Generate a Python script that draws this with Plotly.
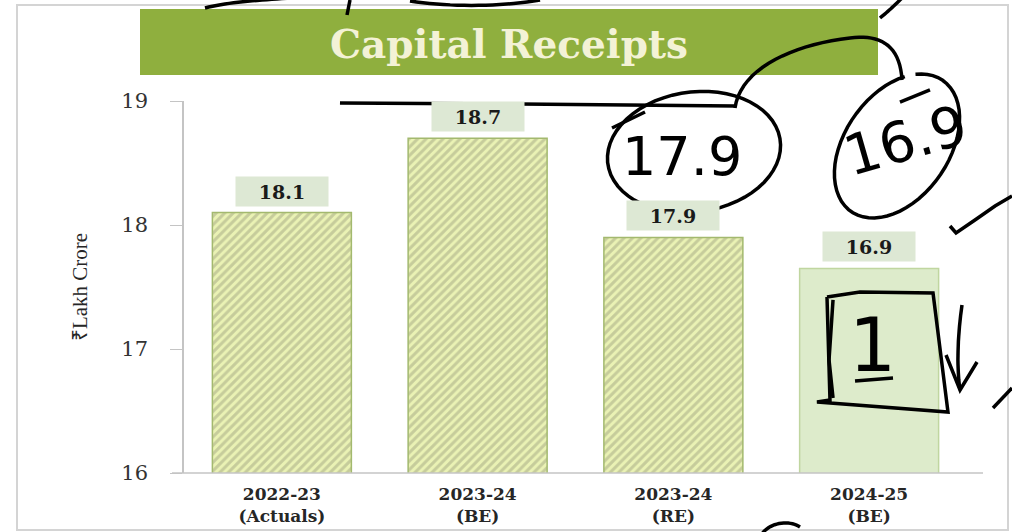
import numpy as np
import plotly.graph_objects as go

# data
years = ["2022-23<br>(Actuals)", "2023-24<br>(BE)", "2023-24<br>(RE)", "2024-25<br>(BE)"]
values = [18.1, 18.7, 17.9, 17.65]          # bar heights as drawn
value_labels = ["18.1", "18.7", "17.9", "16.9"]
y_ticks = [16, 17, 18, 19]

# plot area in pixels
L, R, T, B = 184, 967, 101, 473
W, H = 1012, 532


def px(x, y):
    return (x - L) / (R - L), (B - y) / (B - T)


def path(points):
    s = ""
    for i, (x, y) in enumerate(points):
        a, b = px(x, y)
        s += ("M" if i == 0 else "L") + f"{a:.4f},{b:.4f} "
    return s


def curve(p0, c1, c2, p1, n=20):
    t = np.linspace(0, 1, n)[:, None]
    p = np.array([p0, c1, c2, p1], dtype=float)
    pts = ((1 - t) ** 3) * p[0] + 3 * ((1 - t) ** 2) * t * p[1] + 3 * (1 - t) * t ** 2 * p[2] + t ** 3 * p[3]
    return [tuple(q) for q in pts]


def ellipse(cx, cy, rx, ry, ang, a0=0, a1=360):
    th = np.radians(np.linspace(a0, a1, 60))
    a = np.radians(ang)
    xs = cx + rx * np.cos(th) * np.cos(a) - ry * np.sin(th) * np.sin(a)
    ys = cy + rx * np.cos(th) * np.sin(a) + ry * np.sin(th) * np.cos(a)
    return list(zip(xs, ys))


fig = go.Figure(go.Bar(
    x=years,
    y=values,
    width=0.71,
    marker=dict(
        color=["#EAF2B4", "#EAF2B4", "#EAF2B4", "#DDEBCB"],
        line=dict(color=["#A3B96E", "#A3B96E", "#A3B96E", "#C0D6A0"], width=1.5),
        pattern=dict(shape=["/", "/", "/", ""], fgcolor="#C2D77E",
                     fgopacity=0.22, size=6, solidity=0.5),
    ),
    hoverinfo="skip",
))

for cat, v, lab in zip(years, values, value_labels):
    fig.add_annotation(
        x=cat, y=v, text="<b>" + lab + "</b>", showarrow=False,
        yanchor="bottom", yshift=6, width=90, height=27,
        bgcolor="#DDE8D4", font=dict(family="DejaVu Serif", size=19, color="#1a1a1a"),
    )

shapes = []
# outer frame
x0, y0 = px(17, 530)
x1, y1 = px(1008, 5)
shapes.append(dict(type="rect", xref="paper", yref="paper", x0=x0, y0=y0, x1=x1, y1=y1,
                   line=dict(color="#D4D4D4", width=2), layer="below"))
# title banner
x0, y0 = px(140, 75)
x1, y1 = px(878, 9)
shapes.append(dict(type="rect", xref="paper", yref="paper", x0=x0, y0=y0, x1=x1, y1=y1,
                   fillcolor="#8FAF3E", line=dict(width=0), layer="below"))

# handwritten marks
ink = dict(color="#000000", width=3.5)
strokes = [
    [(340, 103), (520, 104), (735, 106)],
    curve((735, 108), (740, 70), (790, 45), (850, 38)) + curve((850, 38), (880, 34), (900, 45), (902, 80))[1:],
    ellipse(694, 152, 87, 60, -8, 200, 560),
    [(612, 128), (645, 112)],
    ellipse(897, 146, 52, 80, 35, -120, 230),
    [(900, 102), (930, 90)],
    [(827, 297), (860, 292), (933, 293), (948, 412), (817, 402), (830, 400), (827, 297)],
    [(833, 300), (829, 360), (833, 398)],
    [(855, 381), (893, 378)],
    curve((962, 305), (957, 340), (957, 370), (960, 390)),
    [(946, 355), (960, 390), (977, 362)],
    [(950, 226), (956, 233), (975, 220), (995, 206), (1012, 196)],
    [(1012, 388), (993, 408)],
    curve((205, 8), (228, 2), (260, 0), (292, -2)),
    [(347, 15), (350, 0)],
    curve((410, 1), (450, 7), (500, 7), (540, 0)),
    curve((880, 18), (890, 10), (900, 0), (905, -5)),
    curve((762, 534), (770, 522), (790, 520), (800, 527)),
]
for s in strokes:
    shapes.append(dict(type="path", xref="paper", yref="paper", path=path(s), line=ink))

# x axis line runs a little past the last bar
x0, y0 = px(172, 473)
x1, _ = px(983, 473)
shapes.append(dict(type="line", xref="paper", yref="paper", x0=x0, y0=y0, x1=x1, y1=y0,
                   line=dict(color="#C4C4C4", width=1.5)))

fig.update_layout(shapes=shapes)

# title text
tx, ty = px(509, 44)
fig.add_annotation(xref="paper", yref="paper", x=tx, y=ty, xanchor="center", yanchor="middle",
                   text="<b>Capital Receipts</b>", showarrow=False,
                   font=dict(family="DejaVu Serif", size=39, color="#F3F2D6"))

# handwritten numbers
for txt, (hx, hy), size, ang in [("17.9", (682, 156), 54, 0), ("16.9", (905, 140), 56, -16), ("1", (872, 345), 74, 0)]:
    a, b = px(hx, hy)
    fig.add_annotation(xref="paper", yref="paper", x=a, y=b, xanchor="center", yanchor="middle",
                       text=txt, showarrow=False, textangle=ang,
                       font=dict(family="DejaVu Sans", size=size, color="#000000"))

fig.update_xaxes(
    showline=False, ticks="", ticklabelstandoff=9,
    tickfont=dict(family="DejaVu Serif", size=17, color="#262626", weight="bold"),
    showgrid=False,
)
fig.update_yaxes(
    range=[16, 19], tickvals=y_ticks, showgrid=False, zeroline=False,
    showline=True, linecolor="#C4C4C4", linewidth=1.5,
    ticks="outside", ticklen=12, tickcolor="#C4C4C4", ticklabelstandoff=18,
    tickfont=dict(family="DejaVu Serif", size=21, color="#333333"),
    title=dict(text="₹Lakh Crore", standoff=28, font=dict(family="Liberation Serif", size=21, color="#262626")),
)
fig.update_layout(
    width=W, height=H,
    margin=dict(l=L, r=W - R, t=T, b=H - B, autoexpand=False),
    plot_bgcolor="white", paper_bgcolor="white",
    showlegend=False, bargap=0.29,
)

fig.write_html("out.html", config={"displayModeBar": False},
               post_script="document.body.style.margin = '0';")
